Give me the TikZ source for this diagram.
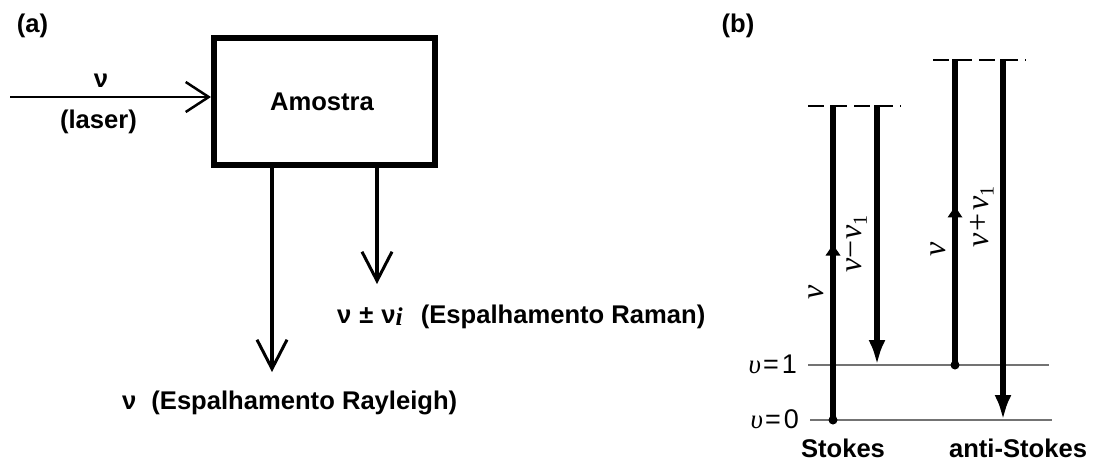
\documentclass[tikz,border=0pt]{standalone}
\usepackage{fontspec}
\setmainfont{Liberation Sans}
\newfontfamily\serf{Liberation Serif}
\usetikzlibrary{arrows.meta,decorations.markings}
\tikzset{
  x=1pt,y=-1pt,
  sanslabel/.style={font=\fontsize{25.6}{30}\selectfont\bfseries, inner sep=0pt},
  lvllabel/.style={font=\fontsize{27}{30}\selectfont, inner sep=0pt, anchor=base east},
  rotlabel/.style={font=\fontsize{32}{36}\selectfont\serf\itshape, inner sep=0pt, rotate=90},
  samplebox/.style={draw, line width=6pt, minimum width=221pt, minimum height=127pt, inner sep=0pt},
  openarrow/.style={line width=2.5pt, -{Straight Barb[length=23pt,width=30pt,line width=2.5pt]}},
  downarrow/.style={line width=4pt, -{Straight Barb[length=29pt,width=30pt,line width=3pt]}},
  level/.style={black!55, line width=1.6pt},
  virtual/.style={line width=2.2pt, dash pattern=on 16pt off 7pt},
  trans/.style={line width=6pt, -{Latex[length=25pt,width=17pt]}},
  uptrans/.style={line width=6pt, postaction={decorate}, decoration={markings, mark=at position #1 with {\fill (-11pt,7.5pt) -- (0pt,0pt) -- (-11pt,-7.5pt) -- cycle;}}},
  dot/.style={circle, fill, inner sep=0pt, minimum size=9pt},
}
\newcommand{\subone}{{\upshape\fontsize{20}{22}\selectfont\raisebox{-5pt}{1}}}
\begin{document}
\begin{tikzpicture}
\useasboundingbox (0,0) rectangle (1094,461);
% ---------- (a) ----------
\node[sanslabel, anchor=base] (la) at (32.5,32) {(a)};
\node[samplebox] (box) at (324.5,101.5) {};
\node[sanslabel, anchor=base] (amostra) at (322,110) {Amostra};
\coordinate (laserin) at (10,97);
\coordinate (laserend) at (211,97);
\draw[openarrow] (laserin) -- (laserend);
\node[sanslabel, anchor=base] (nu) at (101,87) {ν};
\node[sanslabel, anchor=base] (laser) at (98.5,128) {(laser)};
\coordinate (rayTop) at (272,168);
\coordinate (rayEnd) at (272,372);
\coordinate (ramTop) at (377,168);
\coordinate (ramEnd) at (377,284);
\draw[downarrow] (rayTop) -- (rayEnd);
\draw[downarrow] (ramTop) -- (ramEnd);
\node[sanslabel, anchor=base west] (raman) at (337,323) {ν\hspace{8pt}±\hspace{8pt}ν\raisebox{-2pt}{{\serf\bfseries\itshape i}}\hspace{18pt}(Espalhamento Raman)};
\node[sanslabel, anchor=base west] (rayleigh) at (122,409) {ν\hspace{15pt}(Espalhamento Rayleigh)};
% ---------- (b) ----------
\node[sanslabel, anchor=base] (lb) at (738,32) {(b)};
\coordinate (l1a) at (808,365);
\coordinate (l1b) at (1049,365);
\coordinate (l0a) at (810,420);
\coordinate (l0b) at (1052,420);
\draw[level] (l1a) -- (l1b);
\draw[level] (l0a) -- (l0b);
\node[lvllabel] (v1) at (797,373) {{\serf\itshape υ}\hspace{2pt}=\hspace{3pt}1};
\node[lvllabel] (v0) at (799,428) {{\serf\itshape υ}\hspace{2pt}=\hspace{3pt}0};
\coordinate (vs1) at (808,106);
\coordinate (vs2) at (901,106);
\coordinate (va1) at (933,60);
\coordinate (va2) at (1026,60);
\draw[virtual] (vs1) -- (vs2);
\draw[virtual] (va1) -- (va2);
% Stokes
\coordinate (sUpBot) at (833,420);
\coordinate (sUpTop) at (833,105);
\coordinate (sDnTop) at (877,105);
\coordinate (sDnBot) at (877,365);
\draw[uptrans=0.557] (sUpBot) -- (sUpTop);
\draw[trans] (sDnTop) -- (sDnBot);
\node[dot] (sdot) at (sUpBot) {};
\node[rotlabel] (snu) at (816,292) {ν};
\node[rotlabel] (snu2) at (857,244) {ν{\upshape −}ν\subone};
% anti-Stokes
\coordinate (aUpBot) at (955,365);
\coordinate (aUpTop) at (955,59);
\coordinate (aDnTop) at (1003,59);
\coordinate (aDnBot) at (1003,420);
\draw[uptrans=0.518] (aUpBot) -- (aUpTop);
\draw[trans] (aDnTop) -- (aDnBot);
\node[dot] (adot) at (aUpBot) {};
\node[rotlabel] (anu) at (938,249) {ν};
\node[rotlabel] (anu2) at (982,217) {ν\hspace{2pt}{\upshape +}\hspace{2pt}ν\subone};
\node[sanslabel, anchor=base] (stokes) at (843,457) {Stokes};
\node[sanslabel, anchor=base] (astokes) at (1018,457) {anti-Stokes};
\end{tikzpicture}
\end{document}
